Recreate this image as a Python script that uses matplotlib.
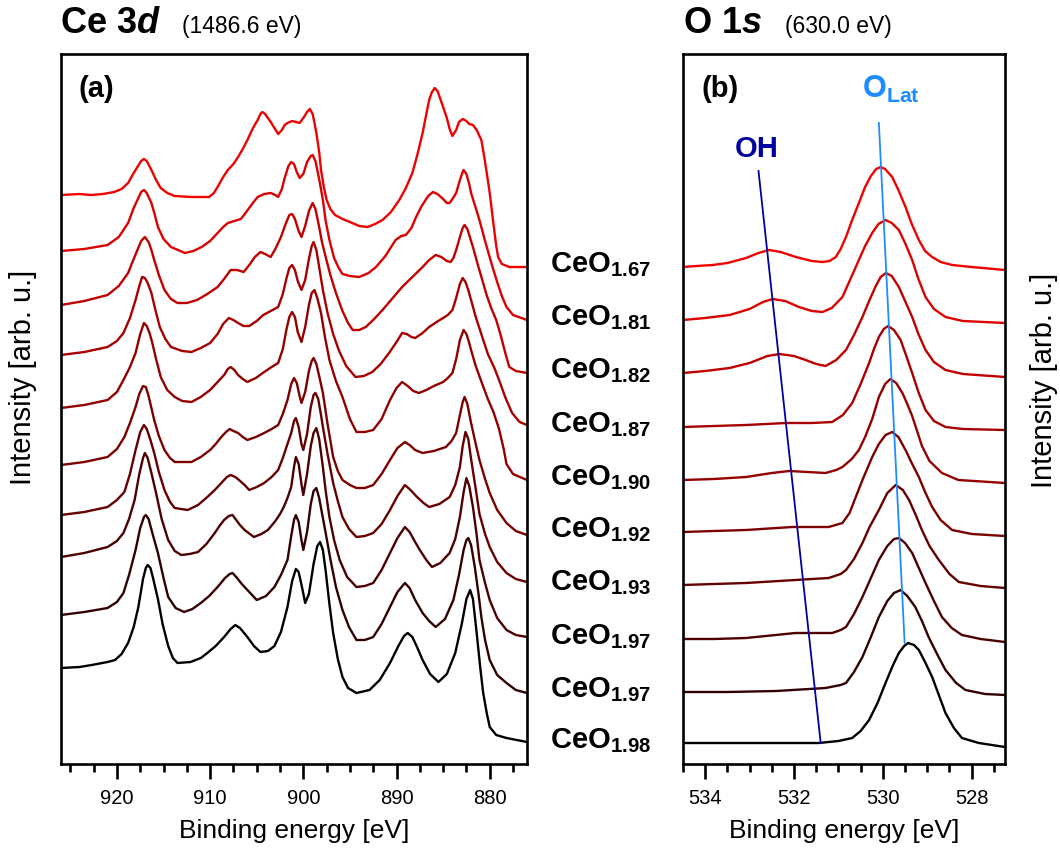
import matplotlib
matplotlib.use('Agg')
import matplotlib.pyplot as plt
from matplotlib.ticker import MultipleLocator

plt.rcParams['font.family'] = 'Liberation Sans'
plt.rcParams['mathtext.fontset'] = 'custom'
plt.rcParams['mathtext.rm'] = 'Liberation Sans'
plt.rcParams['mathtext.bf'] = 'Liberation Sans:bold'
plt.rcParams['mathtext.it'] = 'Liberation Sans:italic'
plt.rcParams['mathtext.bfit'] = 'Liberation Sans:bold:italic'

samples = ['1.67', '1.81', '1.82', '1.87', '1.90', '1.92', '1.93', '1.97', '1.97', '1.98']
colors = ['#F00000', '#DC0000', '#C00000', '#A80000', '#930000', '#7C0000',
          '#660000', '#4E0000', '#320000', '#000000']

# ---- Ce 3d, stacked: (binding energy [eV], intensity) pairs, top trace first ----
ce_167 = [(926.0, 569), (924.0, 570), (922.8, 569), (921.5, 570), (920.3, 572), (919.5, 575), (918.8, 581),
          (918.2, 591), (917.8, 597), (917.4, 603), (917.1, 605), (916.8, 603), (916.3, 594), (915.8, 584),
          (915.3, 576), (914.6, 571), (913.8, 568), (912.0, 567), (910.1, 567), (909.6, 571), (909.2, 577),
          (908.6, 587), (908.1, 594), (907.5, 600), (907.0, 607), (906.5, 615), (906.0, 624), (905.4, 636),
          (904.9, 644), (904.6, 650), (904.4, 652), (904.1, 650), (903.8, 646), (903.5, 642), (903.1, 636),
          (902.7, 630), (902.3, 634), (902.0, 639), (901.7, 641), (901.2, 643), (900.8, 642), (900.4, 641),
          (900.0, 646), (899.6, 652), (899.3, 655), (899.0, 650), (898.8, 641), (898.6, 631), (898.3, 612),
          (898.1, 594), (897.8, 577), (897.5, 564), (897.1, 555), (896.6, 549), (895.8, 545), (895.0, 542),
          (894.0, 538), (893.1, 537), (892.3, 540), (891.5, 544), (890.6, 552), (889.7, 564), (889.0, 576),
          (888.3, 591), (887.8, 608), (887.2, 631), (886.8, 650), (886.5, 664), (886.2, 672), (885.9, 676),
          (885.6, 673), (885.3, 665), (885.0, 657), (884.6, 646), (884.3, 635), (884.0, 628), (883.6, 634),
          (883.3, 642), (882.9, 645), (882.5, 643), (882.2, 640), (881.8, 639), (881.4, 634), (881.1, 628),
          (880.9, 624), (880.6, 608), (880.3, 590), (880.0, 571), (879.6, 540), (879.3, 518), (879.1, 507),
          (878.7, 500), (877.9, 497), (876.0, 497)]

ce_181 = [(926.0, 513), (923.5, 515), (921.0, 519), (919.8, 527), (918.8, 541), (918.2, 556), (917.8, 564),
          (917.4, 572), (917.1, 574), (916.8, 571), (916.3, 561), (915.9, 548), (915.6, 537), (915.0, 525),
          (914.2, 517), (912.7, 511), (911.8, 513), (910.9, 517), (910.0, 523), (909.2, 531), (908.6, 537),
          (908.1, 541), (907.4, 543), (906.7, 545), (906.2, 551), (905.5, 560), (904.9, 567), (904.2, 570),
          (903.5, 571), (903.0, 569), (902.7, 567), (902.3, 575), (902.0, 586), (901.6, 598), (901.3, 602),
          (901.0, 600), (900.7, 592), (900.4, 586), (900.0, 590), (899.6, 602), (899.2, 608), (899.0, 609),
          (898.7, 603), (898.5, 594), (898.2, 580), (897.9, 564), (897.6, 543), (897.2, 524), (896.7, 506),
          (896.2, 496), (895.8, 490), (895.0, 488), (894.0, 487), (893.0, 491), (892.2, 497), (891.2, 508),
          (890.1, 524), (889.5, 528), (889.0, 529), (888.4, 536), (887.9, 547), (887.3, 558), (886.6, 568),
          (886.1, 572), (885.6, 570), (885.0, 565), (884.6, 561), (884.3, 561), (884.0, 565), (883.6, 571),
          (883.2, 584), (882.9, 592), (882.8, 594), (882.5, 590), (882.2, 580), (882.0, 571), (881.6, 559),
          (881.2, 547), (880.9, 537), (880.5, 523), (880.1, 510), (879.7, 497), (879.2, 482), (878.7, 468),
          (878.2, 457), (877.5, 449), (876.0, 444)]

ce_182 = [(926.0, 459), (923.5, 463), (921.0, 469), (919.8, 478), (918.8, 491), (918.2, 505), (917.8, 514),
          (917.4, 523), (917.0, 527), (916.6, 522), (916.3, 514), (916.0, 504), (915.5, 489), (914.9, 474),
          (914.2, 465), (913.5, 461), (912.5, 461), (911.4, 464), (910.3, 470), (909.2, 477), (908.5, 485),
          (907.8, 494), (907.1, 494), (906.4, 492), (905.8, 499), (905.2, 507), (904.6, 512), (904.1, 510),
          (903.5, 507), (903.0, 515), (902.4, 527), (901.9, 540), (901.5, 549), (901.2, 550), (900.9, 545),
          (900.5, 533), (900.2, 527), (899.8, 538), (899.4, 553), (899.0, 561), (898.7, 555), (898.3, 537),
          (898.0, 522), (897.6, 507), (897.1, 489), (896.5, 471), (895.8, 453), (895.2, 441), (894.7, 434),
          (894.0, 434), (893.3, 437), (892.4, 445), (891.5, 454), (890.5, 465), (889.4, 477), (888.3, 487),
          (887.2, 497), (886.5, 504), (885.8, 509), (885.2, 507), (884.6, 503), (884.2, 502), (883.9, 506),
          (883.6, 514), (883.2, 527), (882.9, 536), (882.7, 539), (882.4, 535), (882.1, 526), (881.8, 517),
          (881.3, 500), (880.8, 484), (880.3, 468), (879.8, 455), (879.3, 444), (878.8, 428), (878.3, 410),
          (877.9, 397), (877.2, 393), (876.0, 391)]

ce_187 = [(926.0, 409), (923.5, 412), (921.0, 417), (920.0, 423), (919.3, 431), (918.6, 446), (918.0, 464),
          (917.6, 478), (917.3, 487), (917.0, 486), (916.7, 481), (916.3, 471), (915.9, 455), (915.4, 437),
          (914.8, 425), (914.2, 417), (913.0, 413), (912.0, 412), (911.0, 416), (910.0, 421), (909.2, 430),
          (908.6, 440), (908.0, 446), (907.5, 444), (907.0, 441), (906.4, 438), (905.8, 438), (905.0, 443),
          (904.3, 449), (903.5, 453), (902.7, 457), (902.2, 470), (901.8, 486), (901.5, 496), (901.2, 499),
          (900.9, 494), (900.6, 483), (900.2, 474), (899.8, 484), (899.4, 505), (899.1, 518), (898.9, 522),
          (898.6, 514), (898.3, 497), (897.9, 474), (897.4, 451), (896.8, 430), (896.2, 414), (895.4, 398),
          (894.4, 387), (893.5, 388), (892.6, 392), (891.7, 400), (890.8, 411), (890.0, 422), (889.4, 431),
          (888.9, 430), (888.4, 427), (888.0, 426), (887.2, 431), (886.5, 437), (885.7, 442), (885.0, 446),
          (884.5, 449), (884.0, 454), (883.6, 466), (883.2, 480), (882.9, 486), (882.6, 482), (882.3, 474),
          (882.0, 464), (881.5, 447), (880.8, 427), (880.2, 410), (879.5, 396), (879.0, 384), (878.3, 366),
          (877.6, 351), (876.8, 342), (876.0, 339)]

ce_190 = [(926.0, 356), (923.5, 359), (921.0, 364), (920.0, 372), (919.3, 384), (918.6, 397), (918.0, 411),
          (917.5, 430), (917.1, 441), (916.8, 438), (916.5, 431), (916.2, 421), (915.8, 405), (915.3, 387),
          (914.6, 374), (913.8, 367), (913.0, 363), (912.0, 362), (911.0, 367), (910.0, 374), (909.2, 382),
          (908.5, 389), (908.1, 395), (907.8, 397), (907.4, 394), (907.0, 389), (906.5, 385), (906.0, 382),
          (905.1, 386), (904.2, 392), (903.4, 397), (902.7, 401), (902.2, 415), (901.8, 435), (901.5, 447),
          (901.2, 452), (900.9, 447), (900.6, 432), (900.2, 422), (899.8, 437), (899.4, 459), (899.1, 471),
          (898.8, 474), (898.5, 466), (898.1, 451), (897.7, 428), (897.2, 404), (896.5, 383), (895.8, 367),
          (895.0, 345), (894.3, 332), (893.4, 332), (892.5, 334), (891.6, 345), (890.7, 364), (890.0, 376),
          (889.4, 382), (888.8, 378), (888.2, 373), (887.6, 371), (886.8, 374), (886.0, 378), (885.0, 382),
          (884.5, 386), (884.0, 391), (883.6, 405), (883.2, 424), (882.8, 434), (882.5, 430), (882.2, 421),
          (882.0, 414), (881.5, 398), (880.8, 380), (880.2, 365), (879.6, 352), (879.0, 335), (878.5, 315),
          (878.2, 300), (877.5, 290), (876.0, 284)]

ce_192 = [(926.0, 299), (923.5, 302), (921.0, 307), (920.0, 315), (919.2, 327), (918.6, 341), (918.0, 357),
          (917.6, 370), (917.2, 378), (916.9, 377), (916.6, 368), (916.3, 356), (916.0, 344), (915.5, 328),
          (914.9, 314), (914.3, 306), (913.8, 302), (912.0, 302), (911.0, 307), (910.0, 314), (909.4, 320),
          (908.8, 327), (908.3, 332), (907.9, 335), (907.5, 333), (907.0, 331), (906.5, 327), (906.0, 324),
          (905.1, 327), (904.2, 331), (903.4, 335), (902.7, 339), (902.2, 350), (901.7, 364), (901.3, 380),
          (901.0, 386), (900.7, 381), (900.4, 368), (900.2, 361), (899.8, 372), (899.4, 393), (899.1, 403),
          (898.9, 406), (898.6, 400), (898.3, 388), (897.9, 371), (897.4, 340), (896.8, 307), (896.3, 293),
          (895.8, 284), (895.0, 279), (894.3, 276), (893.4, 276), (892.5, 279), (891.6, 290), (890.7, 304),
          (889.9, 316), (889.1, 322), (888.6, 319), (888.0, 314), (887.2, 311), (886.0, 313), (884.7, 317),
          (884.1, 323), (883.6, 331), (883.2, 349), (882.9, 362), (882.7, 367), (882.4, 360), (882.0, 341),
          (881.5, 320), (881.1, 304), (880.5, 285), (880.0, 271), (879.2, 254), (878.2, 241), (877.2, 233),
          (876.0, 229)]

ce_193 = [(926.0, 249), (923.5, 252), (921.0, 257), (920.0, 264), (919.2, 272), (918.6, 290), (918.0, 314),
          (917.5, 332), (917.1, 339), (916.8, 335), (916.4, 324), (916.0, 311), (915.5, 292), (914.9, 274),
          (914.3, 262), (913.8, 256), (912.4, 254), (911.3, 259), (910.3, 267), (909.5, 274), (908.8, 281),
          (908.2, 287), (907.8, 289), (907.3, 287), (906.9, 284), (906.3, 279), (905.8, 274), (905.0, 277),
          (904.2, 281), (903.4, 287), (902.7, 294), (902.2, 306), (901.7, 320), (901.3, 331), (901.0, 343),
          (900.8, 346), (900.5, 337), (900.2, 320), (900.0, 314), (899.6, 330), (899.2, 357), (898.9, 369),
          (898.7, 371), (898.4, 365), (898.1, 349), (897.9, 337), (897.4, 310), (896.8, 281), (896.3, 263),
          (895.8, 247), (895.1, 235), (894.3, 227), (893.4, 228), (892.5, 231), (891.6, 240), (890.7, 254),
          (889.9, 268), (889.1, 279), (888.5, 274), (887.8, 267), (887.1, 261), (886.5, 257), (885.4, 260),
          (884.3, 267), (883.7, 279), (883.2, 297), (882.9, 318), (882.6, 332), (882.3, 325), (882.0, 305),
          (881.5, 275), (881.1, 250), (880.5, 230), (880.0, 217), (879.2, 202), (878.2, 191), (877.2, 185),
          (876.0, 182)]

ce_197a = [(926.0, 207), (923.5, 211), (921.0, 217), (920.0, 223), (919.3, 231), (918.7, 245), (918.1, 264),
           (917.6, 290), (917.2, 306), (917.0, 311), (916.7, 306), (916.3, 291), (915.8, 271), (915.2, 245),
           (914.5, 224), (913.8, 213), (913.1, 209), (912.2, 210), (911.3, 212), (910.4, 220), (909.5, 231),
           (909.0, 238), (908.5, 244), (908.0, 248), (907.6, 249), (907.2, 244), (906.8, 239), (906.3, 234),
           (905.3, 227), (904.5, 230), (903.8, 234), (903.0, 243), (902.5, 250), (902.1, 257), (901.7, 266),
           (901.3, 277), (901.0, 297), (900.8, 307), (900.5, 300), (900.2, 280), (900.0, 269), (899.6, 290),
           (899.2, 318), (898.9, 331), (898.6, 336), (898.3, 325), (897.9, 297), (897.6, 273), (897.2, 247),
           (896.7, 224), (896.1, 204), (895.3, 187), (894.3, 177), (893.4, 178), (892.5, 181), (891.6, 194),
           (890.7, 211), (889.9, 226), (889.1, 237), (888.6, 232), (888.0, 222), (887.5, 214), (886.8, 204),
           (886.2, 197), (885.3, 201), (884.3, 211), (883.7, 225), (883.2, 247), (882.8, 272), (882.5, 286),
           (882.2, 278), (881.8, 257), (881.4, 229), (881.1, 204), (880.5, 181), (880.0, 164), (879.2, 146),
           (878.2, 134), (877.2, 129), (876.0, 127)]

ce_197b = [(926.0, 149), (923.5, 152), (921.0, 156), (920.0, 162), (919.3, 171), (918.7, 189), (918.0, 214),
           (917.5, 236), (917.1, 247), (916.9, 249), (916.6, 245), (916.2, 231), (915.6, 211), (915.0, 186),
           (914.5, 167), (913.7, 156), (912.8, 152), (911.9, 155), (911.0, 161), (910.1, 168), (909.2, 177),
           (908.4, 186), (907.9, 190), (907.6, 191), (907.2, 187), (906.6, 180), (906.0, 174), (905.0, 164),
           (904.0, 168), (903.1, 177), (902.4, 189), (901.7, 204), (901.3, 228), (901.0, 244), (900.8, 249),
           (900.5, 242), (900.2, 224), (900.0, 214), (899.6, 232), (899.2, 260), (898.9, 273), (898.6, 276),
           (898.3, 266), (897.9, 246), (897.6, 231), (897.1, 205), (896.5, 177), (895.8, 154), (895.1, 137),
           (894.3, 124), (893.4, 124), (892.5, 127), (891.6, 140), (890.7, 157), (889.9, 172), (889.1, 181),
           (888.6, 176), (888.0, 164), (887.2, 151), (886.5, 143), (885.8, 137), (884.8, 145), (883.9, 164),
           (883.3, 189), (882.8, 214), (882.5, 224), (882.3, 226), (882.0, 219), (881.6, 197), (881.2, 170),
           (880.9, 147), (880.5, 124), (880.0, 104), (879.2, 89), (878.2, 81), (877.2, 74), (876.0, 71)]

ce_198 = [(926.0, 96), (924.0, 97), (922.7, 99), (921.0, 102), (920.2, 104), (919.5, 110), (918.8, 121),
          (918.2, 137), (917.7, 157), (917.2, 185), (916.9, 196), (916.7, 199), (916.4, 196), (916.1, 185),
          (915.6, 165), (915.1, 140), (914.5, 118), (914.0, 106), (913.5, 101), (912.1, 102), (911.0, 106),
          (910.3, 111), (909.4, 118), (908.5, 127), (907.8, 135), (907.3, 139), (906.8, 136), (906.0, 127),
          (905.3, 118), (904.6, 112), (903.8, 113), (903.1, 118), (902.4, 132), (901.7, 157), (901.2, 183),
          (900.8, 195), (900.5, 192), (900.1, 175), (899.8, 161), (899.4, 170), (898.9, 200), (898.5, 218),
          (898.2, 222), (897.9, 214), (897.6, 193), (897.2, 160), (896.8, 131), (896.3, 105), (895.8, 87),
          (895.2, 76), (894.3, 71), (892.9, 74), (891.8, 84), (890.7, 101), (889.8, 118), (889.2, 128),
          (888.8, 131), (888.3, 127), (887.8, 117), (887.2, 104), (886.4, 90), (885.5, 82), (884.6, 90),
          (883.7, 111), (883.0, 140), (882.5, 165), (882.1, 174), (881.8, 165), (881.4, 131), (881.0, 95),
          (880.7, 71), (880.3, 50), (880.0, 37), (879.3, 29), (878.2, 26), (876.0, 22)]

# ---- O 1s, stacked ----
o_167 = [(534.5, 497), (534.2, 498), (533.83, 499), (533.5, 501), (533.08, 506), (532.8, 511), (532.56, 514),
         (532.3, 512), (531.96, 507), (531.6, 503), (531.36, 502), (531.2, 503), (531.06, 507), (530.95, 515),
         (530.83, 527), (530.7, 543), (530.54, 561), (530.4, 577), (530.27, 588), (530.15, 595), (530.05, 597),
         (529.95, 595), (529.79, 587), (529.65, 574), (529.49, 557), (529.35, 540), (529.19, 524), (529.05, 513),
         (528.89, 507), (528.7, 502), (528.44, 499), (528.0, 497), (527.25, 494)]

o_181 = [(534.5, 444), (534.0, 446), (533.45, 449), (533.0, 455), (532.7, 462), (532.48, 465), (532.2, 463),
         (531.89, 457), (531.6, 453), (531.36, 452), (531.15, 456), (530.91, 467), (530.75, 483), (530.54, 504),
         (530.4, 518), (530.24, 531), (530.1, 540), (529.94, 544), (529.8, 541), (529.64, 534), (529.5, 521),
         (529.34, 504), (529.2, 485), (529.04, 467), (528.85, 455), (528.59, 447), (528.2, 443), (527.25, 441)]

o_182 = [(534.5, 391), (534.0, 393), (533.45, 396), (533.0, 401), (532.6, 408), (532.33, 410), (532.0, 408),
         (531.74, 404), (531.5, 400), (531.29, 398), (531.05, 404), (530.83, 414), (530.65, 429), (530.46, 447),
         (530.3, 464), (530.17, 477), (530.05, 487), (529.93, 491), (529.8, 488), (529.64, 477), (529.5, 463),
         (529.34, 447), (529.2, 430), (529.04, 414), (528.85, 402), (528.59, 394), (528.2, 390), (527.25, 387)]

o_187 = [(534.5, 337), (533.8, 338), (533.08, 339), (532.18, 341), (531.6, 341), (531.14, 342), (530.9, 349),
         (530.69, 361), (530.5, 380), (530.31, 401), (530.2, 415), (530.09, 427), (529.98, 435), (529.88, 438),
         (529.75, 434), (529.6, 424), (529.48, 409), (529.34, 391), (529.2, 372), (529.04, 354), (528.85, 343),
         (528.59, 337), (528.2, 335), (527.25, 334)]

o_190 = [(534.5, 284), (533.8, 285), (533.08, 287), (532.5, 291), (532.11, 293), (531.7, 292), (531.29, 291),
         (531.05, 294), (530.91, 297), (530.7, 305), (530.54, 314), (530.4, 327), (530.24, 345), (530.09, 367),
         (529.95, 380), (529.83, 385), (529.7, 381), (529.56, 371), (529.45, 360), (529.34, 348), (529.2, 329),
         (529.12, 318), (528.95, 303), (528.67, 291), (528.3, 284), (527.25, 281)]

o_192 = [(534.5, 232), (533.8, 233), (533.08, 234), (532.04, 237), (531.22, 237), (530.91, 241), (530.75, 251),
         (530.61, 267), (530.45, 285), (530.24, 307), (530.09, 320), (529.94, 329), (529.79, 332), (529.65, 327),
         (529.49, 314), (529.35, 301), (529.19, 287), (529.05, 272), (528.89, 257), (528.7, 244), (528.44, 234),
         (528.0, 230), (527.25, 228)]

o_193 = [(534.5, 179), (533.8, 180), (533.08, 181), (531.97, 184), (531.22, 186), (530.95, 190), (530.83, 194),
         (530.65, 205), (530.46, 221), (530.3, 237), (530.09, 254), (529.9, 271), (529.71, 279), (529.55, 274),
         (529.41, 264), (529.26, 249), (529.12, 234), (528.95, 218), (528.74, 204), (528.5, 190), (528.29, 182),
         (527.8, 178), (527.25, 176)]

o_197a = [(534.5, 125), (533.8, 125), (533.08, 126), (531.97, 131), (531.14, 131), (530.95, 134), (530.83, 137),
          (530.65, 150), (530.46, 167), (530.27, 186), (530.09, 204), (529.9, 218), (529.75, 225), (529.64, 226),
          (529.5, 221), (529.34, 211), (529.2, 197), (529.04, 181), (528.85, 163), (528.67, 147), (528.45, 136),
          (528.22, 129), (527.8, 125), (527.25, 122)]

o_197b = [(534.5, 72), (533.5, 72), (532.4, 73), (531.29, 76), (530.95, 79), (530.83, 81), (530.65, 92),
          (530.46, 107), (530.27, 127), (530.09, 147), (529.9, 163), (529.75, 171), (529.6, 174), (529.45, 168),
          (529.27, 157), (529.12, 143), (528.97, 127), (528.78, 110), (528.59, 94), (528.35, 81), (528.14, 74),
          (527.7, 70), (527.25, 69)]

o_198 = [(534.5, 21), (533.5, 21), (532.4, 21), (531.44, 21), (531.0, 23), (530.69, 26), (530.5, 33),
         (530.31, 44), (530.12, 61), (529.94, 81), (529.78, 98), (529.64, 111), (529.52, 118), (529.43, 121),
         (529.3, 119), (529.19, 114), (529.05, 102), (528.89, 87), (528.74, 69), (528.59, 51), (528.4, 36),
         (528.22, 26), (527.84, 21), (527.25, 17)]

# guide lines through the O 1s components: (E, intensity) at both ends
oh_line = [(532.80, 593), (531.40, 21)]
olat_line = [(530.09, 641), (529.51, 121)]

ce_spectra = [ce_167, ce_181, ce_182, ce_187, ce_190, ce_192, ce_193, ce_197a, ce_197b, ce_198]
o_spectra = [o_167, o_181, o_182, o_187, o_190, o_192, o_193, o_197a, o_197b, o_198]

W, H = 1060, 861
fig = plt.figure(figsize=(W / 100, H / 100), dpi=100)
ax1 = fig.add_axes([61 / W, 1 - 764 / H, 466 / W, 710 / H])
ax2 = fig.add_axes([683 / W, 1 - 764 / H, 322 / W, 710 / H])

for spec, c in zip(ce_spectra, colors):
    e, i = zip(*spec)
    ax1.plot(e, i, color=c, lw=1.7, solid_joinstyle='round')
for spec, c in zip(o_spectra, colors):
    e, i = zip(*spec)
    ax2.plot(e, i, color=c, lw=1.7, solid_joinstyle='round')

ax2.plot(*zip(*oh_line), color='#0000A0', lw=1.3)
ax2.plot(*zip(*olat_line), color='#1E8CFF', lw=1.3)

ax1.set_xlim(926, 876)
ax2.set_xlim(534.5, 527.25)
for ax in (ax1, ax2):
    ax.set_ylim(0, 710)
    ax.set_yticks([])
    for s in ax.spines.values():
        s.set_linewidth(1.9)
    ax.tick_params(axis='x', which='both', direction='out', width=1.9, labelsize=14.5, pad=7)
    ax.tick_params(axis='x', which='major', length=11)
    ax.tick_params(axis='x', which='minor', length=5.5)
    ax.set_xlabel('Binding energy [eV]', fontsize=19, labelpad=8)

ax1.xaxis.set_major_locator(MultipleLocator(10))
ax1.xaxis.set_minor_locator(MultipleLocator(2.5))
ax2.xaxis.set_major_locator(MultipleLocator(2))
ax2.xaxis.set_minor_locator(MultipleLocator(0.5))

ax1.set_ylabel('Intensity [arb. u.]', fontsize=21, labelpad=17)
ax1.yaxis.label.set_y(0.545)
ax2.yaxis.set_label_position('right')
ax2.set_ylabel('Intensity [arb. u.]', fontsize=21, labelpad=18)
ax2.yaxis.label.set_y(0.54)

ax1.text(0.037, 0.94, '(a)', transform=ax1.transAxes, fontsize=21, fontweight='bold', va='baseline')
ax2.text(0.059, 0.94, '(b)', transform=ax2.transAxes, fontsize=21, fontweight='bold', va='baseline')
ax2.text(533.34, 607, 'OH', color='#0000A0', fontsize=21, fontweight='bold', va='baseline')
ax2.text(530.47, 666, r'$\mathbf{O_{Lat}}$', color='#1E8CFF', fontsize=22, va='baseline')

# sample labels between the panels, one per O 1s trace
for spec, s in zip(o_spectra, samples):
    ax2.text(-0.413, spec[0][1] - 5, r'$\mathbf{CeO_{%s}}$' % s, transform=ax2.get_yaxis_transform(),
             fontsize=21, va='baseline', ha='left', clip_on=False)

fig.text(60 / W, 1 - 33 / H, r'Ce 3$\mathbfit{d}$', fontsize=26, fontweight='bold', va='baseline')
fig.text(182 / W, 1 - 33 / H, '(1486.6 eV)', fontsize=16.5, va='baseline')
fig.text(683 / W, 1 - 33 / H, r'O 1$\mathbfit{s}$', fontsize=26, fontweight='bold', va='baseline')
fig.text(785 / W, 1 - 33 / H, '(630.0 eV)', fontsize=16.5, va='baseline')

fig.savefig('out.png', dpi=100)
